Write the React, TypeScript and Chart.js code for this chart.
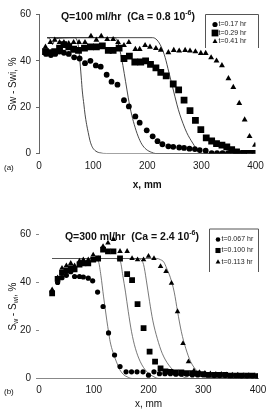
import React, { useEffect, useRef } from "react";
import { Chart, registerables } from "chart.js";

Chart.register(...registerables);

const FONT = "'Liberation Sans', Arial, Helvetica, sans-serif";
const W = 276;
const H = 207;

const X_TICKS = [0, 100, 200, 300, 400];
const Y_TICKS = [0, 20, 40, 60];

// ---------------- Panel (a): Q = 100 ml/hr ----------------
const A_LEGEND = ["t=0.17 hr", "t=0.29 hr", "t=0.41 hr"];

const A_CIRCLE_X = [13, 22, 30, 38, 46, 55, 65, 75, 85, 95, 105, 114, 125, 134, 145, 157, 166, 178, 186, 199, 210, 219, 228, 239, 248, 259, 268, 278, 288, 297, 308, 319, 329, 339, 349, 359, 369, 379];
const A_CIRCLE_Y = [43, 42.5, 43, 44, 43.5, 43, 41.5, 41, 39, 40, 38, 37.5, 34, 31, 29.7, 23, 20.3, 16, 13.3, 10, 7.4, 5.3, 4, 3.1, 2.9, 2.6, 2.4, 2.1, 1.9, 1.5, 1.2, 0.2, 0.2, 0.2, 0.2, 0.2, 0.2, 0.2];

const A_SQUARE_X = [12, 21, 29, 38, 46, 55, 64, 73, 84, 95, 106, 117, 128, 137, 148, 157, 167, 177, 188, 197, 206, 216, 225, 235, 248, 258, 268, 279, 289, 299, 309, 319, 328, 338, 347, 356, 365, 378, 389, 399];
const A_SQUARE_Y = [44, 43.5, 44, 45.5, 47, 46, 45, 44.5, 45.5, 46, 46, 46.5, 44.5, 44.5, 45.5, 41, 42, 39.5, 39.5, 40, 38.5, 37, 35, 33.5, 30, 27.5, 23, 18.5, 14.3, 10.3, 6.7, 5.4, 4.3, 3.6, 2.9, 1.7, 0.7, 0, 0, 0];

const A_TRI_X = [12, 21, 29, 38, 46, 55, 64, 74, 85, 96, 106, 115, 126, 137, 146, 157, 166, 178, 186, 196, 205, 216, 225, 239, 249, 259, 270, 279, 289, 299, 308, 318, 328, 338, 350, 359, 370, 380, 389, 399];
const A_TRI_Y = [46, 48, 49, 48, 48, 47.5, 48, 48, 48, 50.7, 49, 50.7, 49.3, 49.3, 48, 46.7, 48, 45, 45, 46.7, 46, 45.4, 44.7, 43.6, 44.6, 44.3, 44.6, 44.3, 44, 43.3, 43.3, 41.4, 40, 38, 32.4, 28.6, 21.7, 14.6, 7.4, 3.6];

const A_FIT1_X = [15, 20, 25, 30, 65, 70, 73, 75, 78, 80, 83, 85, 88, 91, 94, 98, 103, 112, 125, 400];
const A_FIT1_Y = [50, 49.5, 47, 49.5, 50, 49, 46, 41.5, 33, 27, 21, 17, 12.5, 9, 5.7, 3, 1.4, 0.3, 0, 0];
const A_FIT2_X = [15, 140, 145, 150, 155, 160, 165, 170, 176, 183, 190, 198, 208, 215, 400];
const A_FIT2_Y = [50, 50, 48.5, 44, 38, 31, 24, 18, 12.5, 7.5, 4, 1.8, 0.5, 0, 0];
const A_FIT3_X = [15, 210, 218, 226, 233, 240, 247, 255, 260, 266, 273, 284, 296, 307, 400];
const A_FIT3_Y = [50, 50, 49, 46, 41.5, 35, 28.5, 21, 17, 13, 9, 4.5, 0.6, 0, 0];

// ---------------- Panel (b): Q = 300 ml/hr ----------------
const B_LEGEND = ["t=0.067 hr", "t=0.100 hr", "t=0.113 hr"];

const B_CIRCLE_X = [24, 34, 42, 50, 58, 65, 74, 81, 90, 98, 107, 117, 127, 138, 148, 159, 169, 179, 190, 200, 210, 220, 230, 240, 250, 260, 270, 280, 290, 300, 310, 320, 330, 340, 350, 360, 370, 380, 390, 400];
const B_CIRCLE_Y = [36, 40, 42, 43, 44.5, 42.5, 42.5, 42.3, 41.8, 40.7, 36, 30, 19, 9.8, 5, 2.8, 2.8, 2.8, 2.8, 1.4, 2.8, 2, 2, 2, 1.8, 1.8, 1.8, 1.5, 1.5, 1.5, 1.5, 1.2, 1.2, 1.2, 1.2, 1.2, 1, 1, 1, 1];

const B_SQUARE_X = [24, 34, 42, 50, 58, 65, 74, 81, 90, 99, 108, 117, 126, 136, 148, 161, 170, 180, 191, 202, 212, 222, 231, 240, 250, 260, 270, 280, 290, 300, 310, 320, 330, 340, 350, 360, 370, 380, 390, 400];
const B_SQUARE_Y = [35.5, 41.5, 44, 45, 46, 45.5, 47.5, 48, 48, 49.5, 50, 53.7, 53, 53, 50, 43.5, 41, 31, 21, 11.2, 7, 4.2, 3, 2.8, 2.5, 2.5, 2.2, 2.2, 2, 1.8, 1.5, 1.5, 1.5, 1.5, 1.2, 1.2, 1.2, 1.2, 1.2, 1];

const B_TRI_X = [24, 34, 42, 50, 58, 65, 74, 81, 90, 99, 108, 117, 126, 136, 148, 161, 170, 180, 191, 200, 210, 222, 232, 242, 253, 263, 273, 283, 293, 303, 313, 323, 333, 343, 353, 363, 373, 383, 393];
const B_TRI_Y = [37, 42, 46, 47, 48, 47, 49, 49.5, 49.5, 51.5, 50, 55, 56.5, 58, 53, 53, 50, 49.5, 49.5, 51, 50, 46.7, 44.6, 39.7, 27.9, 14.6, 7, 3.2, 2.5, 2.2, 2, 1.8, 1.8, 1.6, 1.5, 1.5, 1.3, 1.3, 1.2];

const B_FIT1_X = [24, 100, 105, 109, 113, 118, 121, 124, 127, 130, 135, 139, 144, 148, 155, 161, 170, 400];
const B_FIT1_Y = [50, 50, 49.5, 48.5, 43, 34, 29, 24, 19.5, 15.3, 11, 8.4, 5.5, 3.5, 1.5, 0.7, 0, 0];
const B_FIT2_X = [24, 140, 145, 149, 153, 158, 163, 169, 176, 185, 197, 210, 219, 400];
const B_FIT2_Y = [50, 50, 49.5, 48.5, 43, 36, 28, 19.5, 12.6, 7, 2.8, 0.7, 0, 0];
const B_FIT3_X = [24, 180, 186, 191, 196, 202, 208, 216, 225, 237, 253, 268, 277, 400];
const B_FIT3_Y = [50, 50, 49.5, 47.5, 41, 32, 24, 16.7, 10.5, 5.6, 2, 0.3, 0, 0];
const B_FIT4_X = [24, 215, 222, 228, 233, 240, 247, 253, 260, 268, 277, 290, 302, 311, 400];
const B_FIT4_Y = [50, 50, 49.5, 48.5, 46, 42, 36, 28, 19.5, 12.6, 7, 2.8, 0.7, 0, 0];

// ---------------- helpers ----------------
type Seg = { t: string; sub?: boolean; sup?: boolean };
type Marker = "circle" | "rect" | "triangle";

const pts = (xs: number[], ys: number[]) => xs.map((x, i) => ({ x, y: ys[i] }));

function segFont(s: Seg, size: number, weight: string) {
  const sz = s.sub || s.sup ? size * 0.68 : size;
  return `${weight} ${sz}px ${FONT}`;
}

function drawRich(ctx: CanvasRenderingContext2D, segs: Seg[], x: number, y: number, size: number, weight: string, align: "center" | "left") {
  let total = 0;
  const widths: number[] = [];
  for (const s of segs) {
    ctx.font = segFont(s, size, weight);
    const w = ctx.measureText(s.t).width;
    widths.push(w);
    total += w;
  }
  let cx = align === "center" ? x - total / 2 : x;
  ctx.textAlign = "left";
  ctx.textBaseline = "middle";
  segs.forEach((s, i) => {
    ctx.font = segFont(s, size, weight);
    const dy = s.sub ? size * 0.3 : s.sup ? -size * 0.38 : 0;
    ctx.fillText(s.t, cx, y + dy);
    cx += widths[i];
  });
}

function drawMarker(ctx: CanvasRenderingContext2D, m: Marker, x: number, y: number, r: number) {
  ctx.beginPath();
  if (m === "circle") {
    ctx.arc(x, y, r, 0, Math.PI * 2);
  } else if (m === "rect") {
    const s = r * Math.SQRT1_2;
    ctx.rect(x - s, y - s, 2 * s, 2 * s);
  } else {
    const h = r * 1.5;
    const hw = (r * Math.sqrt(3)) / 2;
    ctx.moveTo(x, y - r);
    ctx.lineTo(x + hw, y - r + h);
    ctx.lineTo(x - hw, y - r + h);
    ctx.closePath();
  }
  ctx.fill();
}

interface PanelSpec {
  series: { xs: number[]; ys: number[]; marker: Marker; r: number; label: string }[];
  fits: { xs: number[]; ys: number[] }[];
  fitColor: string;
  fitWidth: number;
  area: { left: number; right: number; top: number; bottom: number };
  title: Seg[];
  titleX: number;
  titleY: number;
  legendBox: { l: number; t: number; r: number; b: number };
  legendRows: number[];
  legendMarkerX: number;
  legendTextX: number;
  legendMarkerR: number[];
  yTitle: Seg[];
  yTitleX: number;
  yTitleWeight: string;
  xTitle: string;
  xTitleWeight: string;
  xTitlePad: number;
  xTickPad: number;
  panelLabel: string;
  panelLabelX: number;
  yBorder: boolean;
  xBorder: boolean;
  axisColor: string;
}

function buildConfig(p: PanelSpec): any {
  const datasets: any[] = [];
  p.series.forEach((s) => {
    datasets.push({
      type: "scatter",
      label: s.label,
      data: pts(s.xs, s.ys),
      pointStyle: s.marker,
      pointRadius: s.r,
      pointHoverRadius: s.r,
      pointBorderWidth: 0,
      backgroundColor: "#000",
      borderColor: "#000",
      showLine: false,
    });
  });
  p.fits.forEach((f) => {
    datasets.push({
      type: "line",
      data: pts(f.xs, f.ys),
      borderColor: p.fitColor,
      borderWidth: p.fitWidth,
      pointRadius: 0,
      fill: false,
      cubicInterpolationMode: "monotone",
    });
  });

  const deco = {
    id: "deco",
    afterDraw(chart: any) {
      const ctx: CanvasRenderingContext2D = chart.ctx;
      ctx.save();
      ctx.fillStyle = "#111";
      // title
      drawRich(ctx, p.title, p.titleX, p.titleY, 10.5, "bold", "center");
      // legend box (left, top and right sides)
      ctx.strokeStyle = "#555";
      ctx.lineWidth = 1;
      const b = p.legendBox;
      ctx.beginPath();
      ctx.moveTo(b.l + 0.5, b.b);
      ctx.lineTo(b.l + 0.5, b.t + 0.5);
      ctx.lineTo(b.r + 0.5, b.t + 0.5);
      ctx.lineTo(b.r + 0.5, b.b);
      ctx.stroke();
      p.series.forEach((s, i) => {
        ctx.fillStyle = "#000";
        drawMarker(ctx, s.marker, p.legendMarkerX, p.legendRows[i], p.legendMarkerR[i]);
        ctx.fillStyle = "#222";
        ctx.font = `7px ${FONT}`;
        ctx.textAlign = "left";
        ctx.textBaseline = "middle";
        ctx.fillText(s.label, p.legendTextX, p.legendRows[i]);
      });
      // y title (rotated)
      const yMid = (chart.chartArea.top + chart.chartArea.bottom) / 2;
      ctx.save();
      ctx.translate(p.yTitleX, yMid);
      ctx.rotate(-Math.PI / 2);
      ctx.fillStyle = "#111";
      drawRich(ctx, p.yTitle, 0, 0, 10, p.yTitleWeight, "center");
      ctx.restore();
      // panel label
      const xs = chart.scales.x;
      ctx.fillStyle = "#111";
      ctx.font = `8px ${FONT}`;
      ctx.textAlign = "left";
      ctx.textBaseline = "middle";
      ctx.fillText(p.panelLabel, p.panelLabelX, xs.top + p.xTickPad + 8);
      ctx.restore();
    },
  };

  return {
    type: "scatter",
    data: { datasets },
    plugins: [deco],
    options: {
      animation: false,
      responsive: false,
      devicePixelRatio: 1,
      events: [],
      layout: {
        padding: { left: 0, top: p.area.top, right: W - p.area.right, bottom: 0 },
      },
      plugins: { legend: { display: false }, tooltip: { enabled: false }, title: { display: false } },
      scales: {
        x: {
          type: "linear",
          min: 0,
          max: 400,
          afterFit: (s: any) => {
            s.height = H - p.area.bottom;
          },
          afterBuildTicks: (s: any) => {
            s.ticks = X_TICKS.map((v) => ({ value: v }));
          },
          grid: { display: false, drawTicks: false },
          border: { display: p.xBorder, color: p.axisColor, width: 1 },
          ticks: {
            color: "#1a1a1a",
            font: { family: FONT, size: 10 },
            padding: p.xTickPad,
            maxRotation: 0,
            autoSkip: false,
          },
          title: {
            display: true,
            text: p.xTitle,
            color: "#111",
            font: { family: FONT, size: 10, weight: p.xTitleWeight },
            padding: { top: 0, bottom: p.xTitlePad },
          },
        },
        y: {
          type: "linear",
          min: 0,
          max: 60,
          afterFit: (s: any) => {
            s.width = p.area.left;
          },
          afterBuildTicks: (s: any) => {
            s.ticks = Y_TICKS.map((v) => ({ value: v }));
          },
          grid: { display: true, drawOnChartArea: false, drawTicks: true, tickLength: 3, color: p.axisColor },
          border: { display: p.yBorder, color: p.axisColor, width: 1 },
          ticks: {
            color: "#1a1a1a",
            font: { family: FONT, size: 10 },
            padding: 5,
          },
        },
      },
    },
  };
}

const PANEL_A: PanelSpec = {
  series: [
    { xs: A_CIRCLE_X, ys: A_CIRCLE_Y, marker: "circle", r: 2.9, label: A_LEGEND[0] },
    { xs: A_SQUARE_X, ys: A_SQUARE_Y, marker: "rect", r: 4.8, label: A_LEGEND[1] },
    { xs: A_TRI_X, ys: A_TRI_Y, marker: "triangle", r: 3.4, label: A_LEGEND[2] },
  ],
  fits: [
    { xs: A_FIT1_X, ys: A_FIT1_Y },
    { xs: A_FIT2_X, ys: A_FIT2_Y },
    { xs: A_FIT3_X, ys: A_FIT3_Y },
  ],
  fitColor: "#333",
  fitWidth: 0.9,
  area: { left: 39, right: 255.5, top: 14.5, bottom: 153.5 },
  title: [{ t: "Q=100 ml/hr  (Ca = 0.8 10" }, { t: "-6", sup: true }, { t: ")" }],
  titleX: 128,
  titleY: 17,
  legendBox: { l: 205, t: 14, r: 258, b: 48 },
  legendRows: [24.5, 33, 41.5],
  legendMarkerX: 215,
  legendTextX: 218.5,
  legendMarkerR: [2.6, 4.8, 2.9],
  yTitle: [{ t: "Sw - Swi, %" }],
  yTitleX: 13,
  yTitleWeight: "normal",
  xTitle: "x, mm",
  xTitleWeight: "bold",
  xTitlePad: 16,
  xTickPad: 6.5,
  panelLabel: "(a)",
  panelLabelX: 4,
  yBorder: true,
  xBorder: false,
  axisColor: "#666",
};

const PANEL_B: PanelSpec = {
  series: [
    { xs: B_CIRCLE_X, ys: B_CIRCLE_Y, marker: "circle", r: 2.6, label: B_LEGEND[0] },
    { xs: B_SQUARE_X, ys: B_SQUARE_Y, marker: "rect", r: 4.1, label: B_LEGEND[1] },
    { xs: B_TRI_X, ys: B_TRI_Y, marker: "triangle", r: 3.2, label: B_LEGEND[2] },
  ],
  fits: [
    { xs: B_FIT1_X, ys: B_FIT1_Y },
    { xs: B_FIT2_X, ys: B_FIT2_Y },
    { xs: B_FIT3_X, ys: B_FIT3_Y },
    { xs: B_FIT4_X, ys: B_FIT4_Y },
  ],
  fitColor: "#555",
  fitWidth: 0.8,
  area: { left: 39, right: 258, top: 27.5, bottom: 171.5 },
  title: [{ t: "Q=300 ml/hr  (Ca = 2.4 10" }, { t: "-6", sup: true }, { t: ")" }],
  titleX: 132,
  titleY: 30,
  legendBox: { l: 209, t: 21.5, r: 258, b: 65 },
  legendRows: [32.5, 43.5, 55],
  legendMarkerX: 218,
  legendTextX: 221.5,
  legendMarkerR: [2.3, 3.6, 2.8],
  yTitle: [{ t: "S" }, { t: "w", sub: true }, { t: " - S" }, { t: "wi", sub: true }, { t: ", %" }],
  yTitleX: 13,
  yTitleWeight: "normal",
  xTitle: "x, mm",
  xTitleWeight: "normal",
  xTitlePad: 4,
  xTickPad: 5.5,
  panelLabel: "(b)",
  panelLabelX: 4,
  yBorder: false,
  xBorder: true,
  axisColor: "#888",
};

function Panel({ spec }: { spec: PanelSpec }) {
  const ref = useRef<HTMLCanvasElement | null>(null);
  useEffect(() => {
    if (!ref.current) return;
    const chart = new Chart(ref.current, buildConfig(spec));
    return () => chart.destroy();
  }, [spec]);
  return <canvas ref={ref} width={W} height={H} style={{ display: "block", width: W, height: H }} />;
}

export default function App() {
  return (
    <div style={{ position: "absolute", left: 0, top: 0, width: W, height: 2 * H, background: "#fff" }}>
      <Panel spec={PANEL_A} />
      <Panel spec={PANEL_B} />
    </div>
  );
}
